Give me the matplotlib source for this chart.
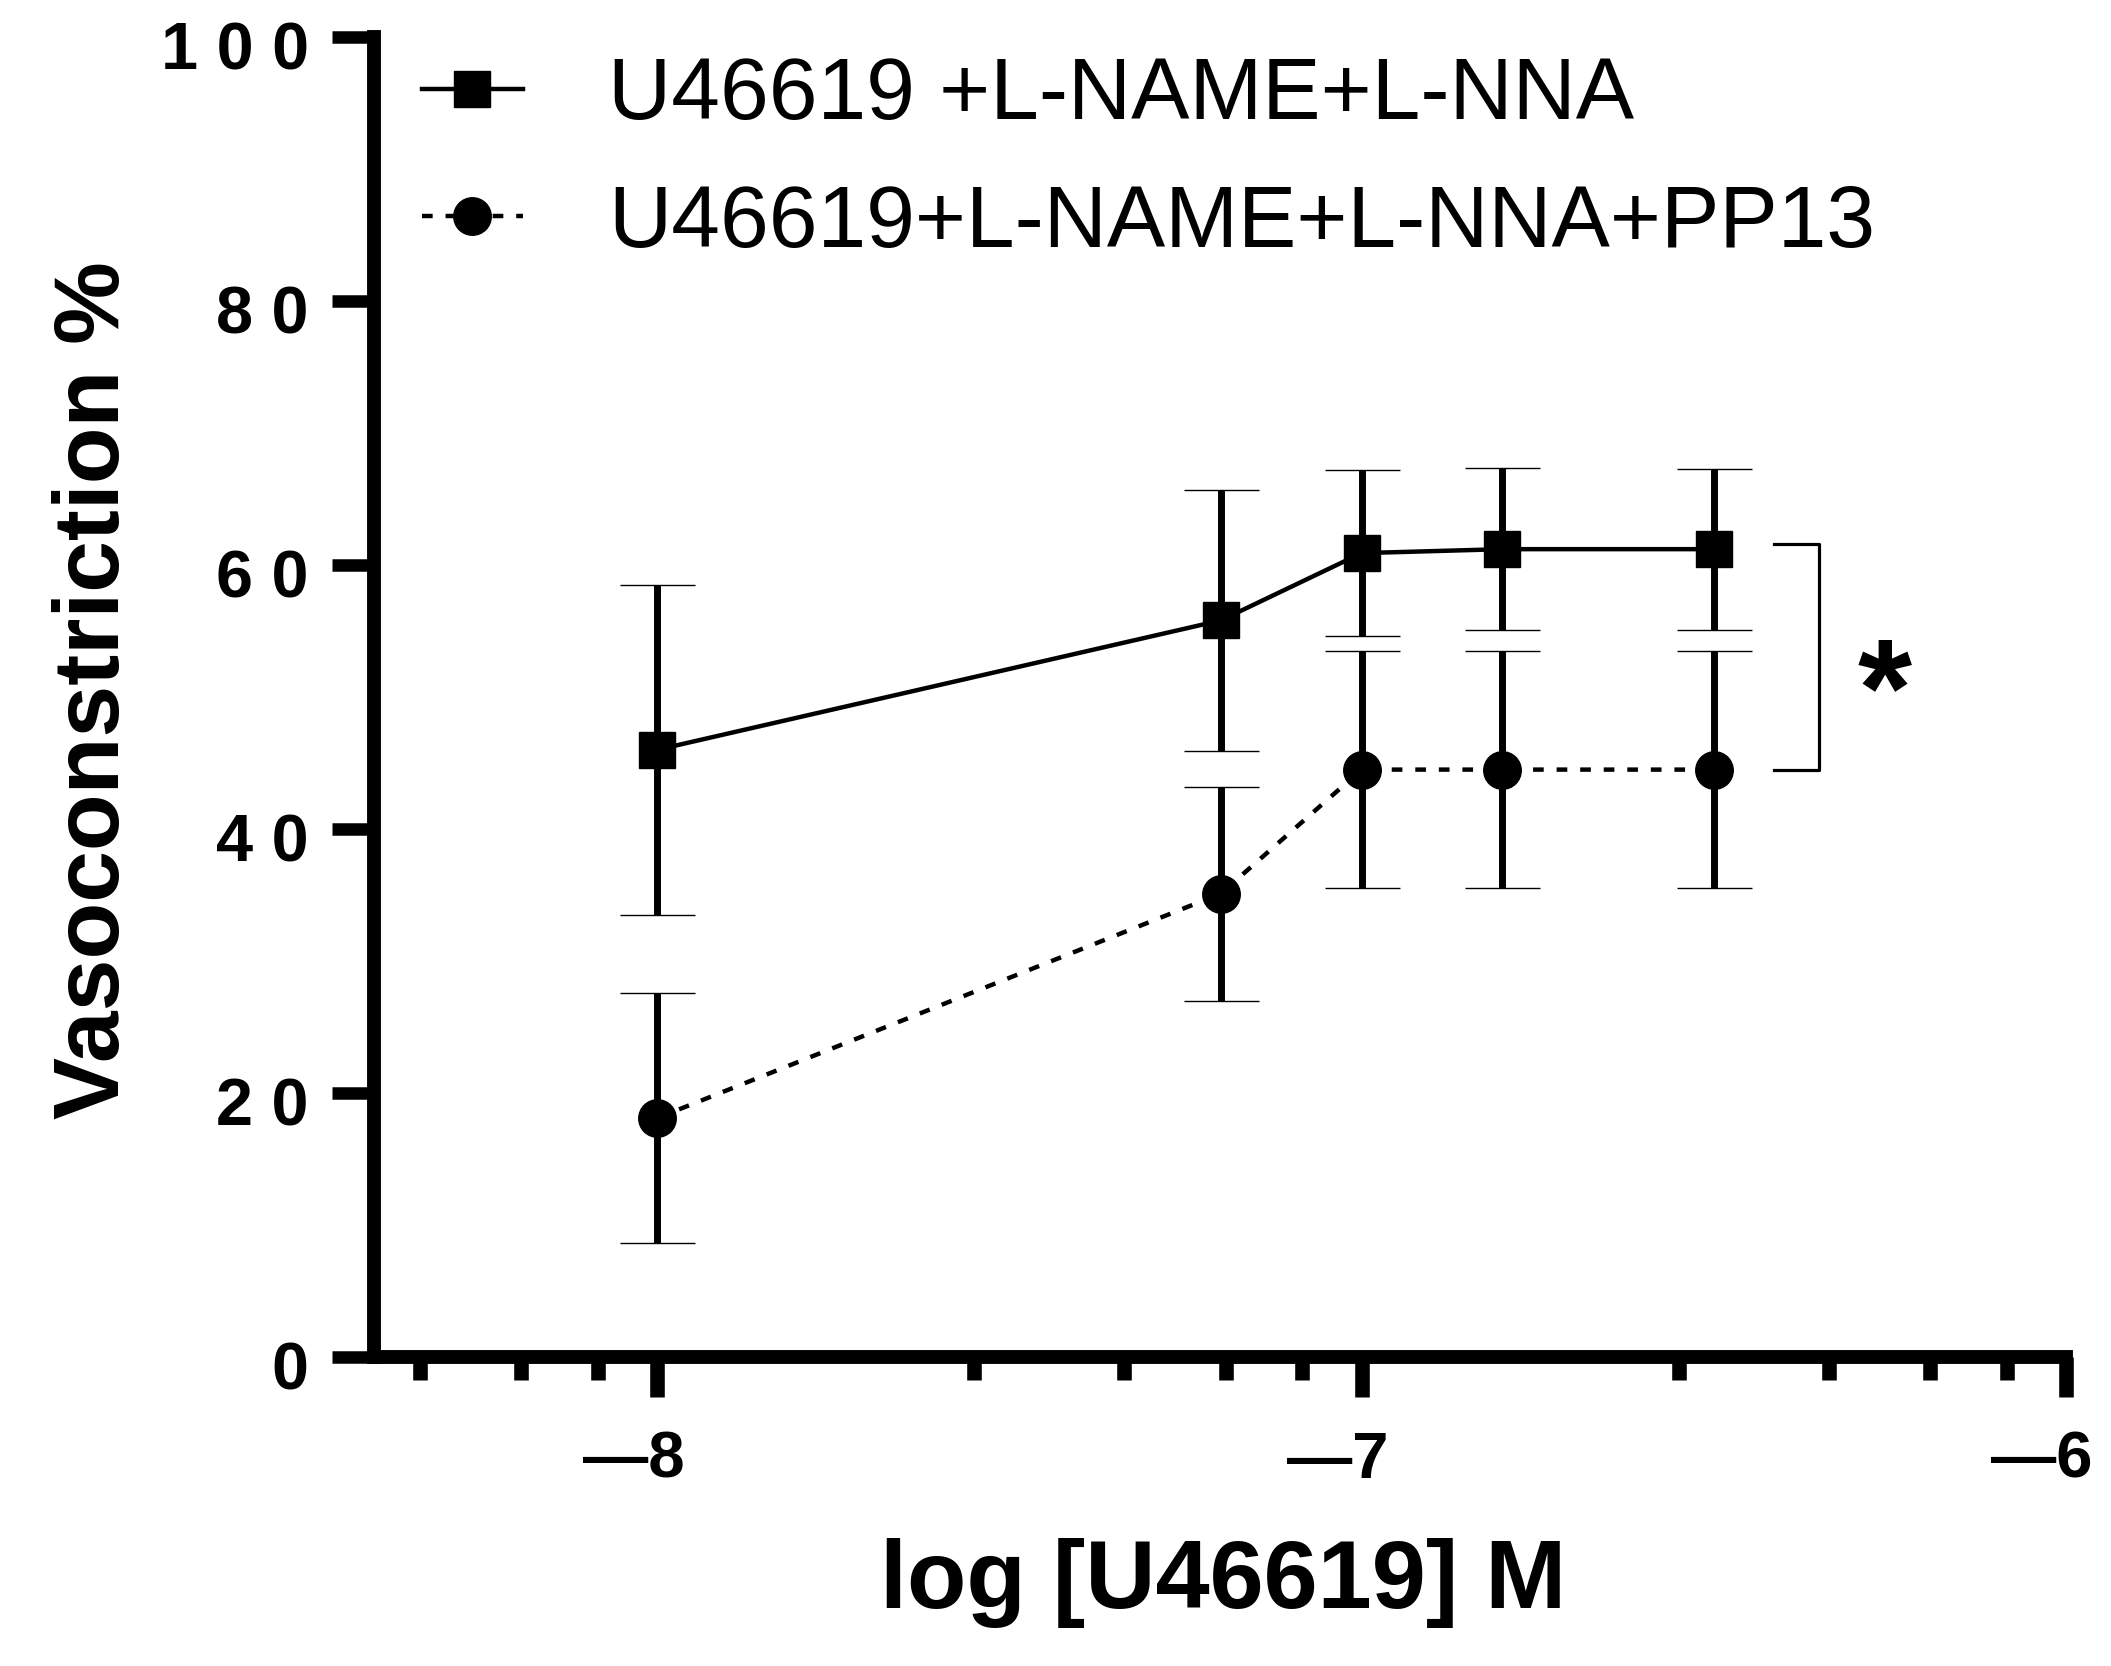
import matplotlib
matplotlib.use('Agg')
import matplotlib.pyplot as plt
import matplotlib.transforms as mtransforms

plt.rcParams['font.family'] = ['Liberation Sans', 'DejaVu Sans']

# log [U46619] M
log_conc = [-8, -7.2, -7, -6.8, -6.5]

# U46619 + L-NAME + L-NNA  (mean, SEM)
ctrl_mean = [46.0, 55.8, 60.9, 61.2, 61.2]
ctrl_sem = [12.5, 9.9, 6.3, 6.15, 6.1]

# U46619 + L-NAME + L-NNA + PP13  (mean, SEM)
pp13_mean = [18.1, 35.1, 44.5, 44.5, 44.5]
pp13_sem = [9.5, 8.1, 9.0, 9.0, 9.0]

labels = ['U46619 +L-NAME+L-NNA', 'U46619+L-NAME+L-NNA+PP13']
y_ticks = [0, 20, 40, 60, 80, 100]
x_ticks = [-8, -7, -6]
minor_offsets = [0.45, 0.663, 0.807, 0.916]   # log-style minor ticks inside a decade
x_lim = (-8.402, -6)

fig = plt.figure(figsize=(21.11, 16.66), dpi=100)
ax = fig.add_axes([0.17717, 0.18547, 0.97868 - 0.17717, 0.97779 - 0.18547])

eb1 = ax.errorbar(log_conc, ctrl_mean, yerr=ctrl_sem, color='black', lw=3.2,
                  marker='s', ms=26, mew=1, elinewidth=5, capsize=27,
                  capthick=3.5, zorder=3)
eb2 = ax.errorbar(log_conc, pp13_mean, yerr=pp13_sem, color='black', lw=3.2,
                  ls=(0, (2.4, 2.9)), marker='o', ms=27, mew=1, elinewidth=5,
                  capsize=27, capthick=3.5, zorder=3)

ax.set_xlim(*x_lim)
ax.set_ylim(0, 100)

for side in ['top', 'right']:
    ax.spines[side].set_visible(False)
for side in ['left', 'bottom']:
    ax.spines[side].set_linewidth(10)
    ax.spines[side].set_capstyle('projecting')

minor = [d + o for d in [-9, -8, -7] for o in minor_offsets]
minor = [m for m in minor if x_lim[0] < m < x_lim[1]]
ax.set_xticks(x_ticks)
ax.set_xticks(minor, minor=True)
ax.set_yticks(y_ticks)
ax.set_xticklabels(['\u2014' + str(abs(v)) for v in x_ticks])
ax.set_yticklabels([' '.join(str(v)) for v in y_ticks])

ax.tick_params(axis='y', which='major', length=30, width=9, pad=17,
               labelsize=48, direction='out')
ax.tick_params(axis='x', which='major', length=29, width=10.5, pad=24,
               labelsize=47, direction='out')
ax.tick_params(axis='x', which='minor', length=16.5, width=10.5, direction='out')

for lbl in ax.get_xticklabels():
    lbl.set_fontweight('bold')
    lbl.set_ha('right')
    lbl.set_transform(lbl.get_transform() +
                      mtransforms.ScaledTranslation(0.27, 0, fig.dpi_scale_trans))
for lbl in ax.get_yticklabels():
    lbl.set_fontweight('bold')
    lbl.set_transform(lbl.get_transform() +
                      mtransforms.ScaledTranslation(0, -0.08, fig.dpi_scale_trans))

ax.set_xlabel('log [U46619] M', fontsize=70, fontweight='bold')
ax.xaxis.set_label_coords(0.5018, -0.137)
ax.set_ylabel('Vasoconstriction %', fontsize=67, fontweight='bold')
ax.yaxis.set_label_coords(-0.1395, 0.5053)

# significance bracket between the two curves at the highest dose
bx0 = log_conc[-1] + 0.085
bx1 = log_conc[-1] + 0.15
ax.plot([bx0, bx1, bx1, bx0], [ctrl_mean[-1] + 0.4, ctrl_mean[-1] + 0.4,
                               pp13_mean[-1], pp13_mean[-1]],
        color='black', lw=2.3, clip_on=False)
ax.text(log_conc[-1] + 0.243, (ctrl_mean[-1] + pp13_mean[-1]) / 2 - 3, '*',
        fontsize=100, fontweight='bold', ha='center', va='center')

ax.legend([eb1[0], eb2[0]], labels, loc='upper left',
          bbox_to_anchor=(0.1999, 0.9661), bbox_transform=fig.transFigure,
          frameon=False, fontsize=63, handlelength=1.15, handletextpad=0.98,
          labelspacing=0.53, borderpad=0, borderaxespad=0, numpoints=1)

fig.savefig('out.png', dpi=100)
